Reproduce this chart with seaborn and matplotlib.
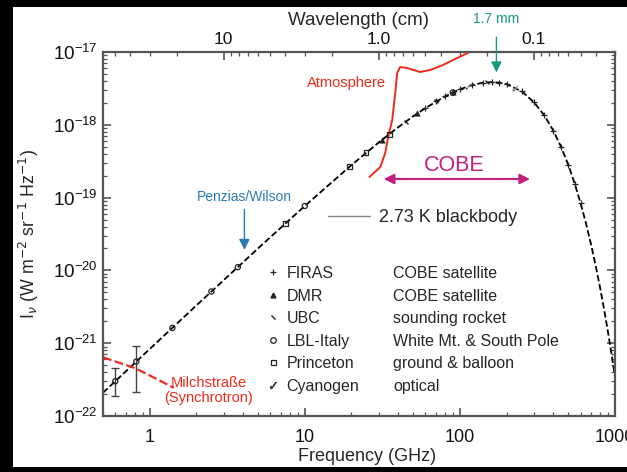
import numpy as np
import pandas as pd
import matplotlib
matplotlib.use("Agg")
import matplotlib.pyplot as plt
import seaborn as sns
from matplotlib.patches import Rectangle
from matplotlib.lines import Line2D
from matplotlib.markers import MarkerStyle
from matplotlib.transforms import Affine2D
from matplotlib.ticker import (LogLocator, FixedLocator, FixedFormatter, NullFormatter,
                               LogFormatterSciNotation)

# ---- data (frequency in GHz, intensity in W m^-2 sr^-1 Hz^-1) ----
bb_freq = [0.5, 1, 2, 5, 10, 20, 30, 40, 50, 60, 80, 100, 120, 140, 160, 180, 200,
           250, 300, 350, 400, 450, 500, 550, 600, 650, 700, 750, 800, 850, 900, 950, 1000]
bb_int = [2.09e-22, 8.31e-22, 3.30e-21, 2.01e-20, 7.67e-20, 2.80e-19, 5.73e-19, 9.25e-19,
          1.31e-18, 1.70e-18, 2.45e-18, 3.07e-18, 3.52e-18, 3.78e-18, 3.86e-18, 3.79e-18,
          3.61e-18, 2.88e-18, 2.05e-18, 1.35e-18, 8.35e-19, 4.93e-19, 2.81e-19, 1.55e-19,
          8.37e-20, 4.42e-20, 2.29e-20, 1.17e-20, 5.90e-21, 2.94e-21, 1.45e-21, 7.07e-22, 3.43e-22]

firas_freq = [60, 70, 80, 90, 100, 120, 140, 160, 180, 200, 250, 300, 350, 400, 450, 500, 550, 600]
firas_int = [1.70e-18, 2.09e-18, 2.45e-18, 2.78e-18, 3.07e-18, 3.52e-18, 3.78e-18, 3.86e-18,
             3.79e-18, 3.61e-18, 2.88e-18, 2.05e-18, 1.35e-18, 8.35e-19, 4.93e-19, 2.81e-19,
             1.55e-19, 8.37e-20]
dmr_freq = [31.5, 53, 90]
dmr_int = [6.23e-19, 1.43e-18, 2.78e-18]
ubc_freq = [45, 70, 150, 260]
ubc_int = [1.11e-18, 2.09e-18, 3.84e-18, 2.71e-18]
lbl_freq = [0.6, 0.82, 1.4, 2.5, 3.7, 10, 90]
lbl_int = [3.00e-22, 5.60e-22, 1.62e-21, 5.13e-21, 1.11e-20, 7.67e-20, 2.78e-18]
lbl_err_lo = [1.12e-22, 3.46e-22, 0, 0, 0, 0, 0]
lbl_err_hi = [1.56e-22, 3.56e-22, 0, 0, 0, 0, 0]
princeton_freq = [7.5, 19.4, 24.8, 35]
princeton_int = [4.42e-20, 2.65e-19, 4.12e-19, 7.44e-19]
cyan_freq = [113.6, 227]
cyan_int = [3.40e-18, 3.25e-18]

atm_freq = [26.1, 30.7, 33.0, 34.5, 36.6, 38.3, 39.4, 41.2, 45.7, 55.4, 64.3, 77.9, 90.2, 116, 130]
atm_int = [1.92e-19, 2.63e-19, 4.10e-19, 6.80e-19, 1.16e-18, 2.73e-18, 5.15e-18, 6.22e-18,
           6.03e-18, 5.31e-18, 5.66e-18, 6.63e-18, 7.76e-18, 1.0e-17, 1.2e-17]

sync_freq = [0.5, 0.80, 1.14, 1.43]
sync_int = [6.4e-22, 4.57e-22, 3.13e-22, 2.43e-22]

exp_names = ["FIRAS", "DMR", "UBC", "LBL-Italy", "Princeton", "Cyanogen"]
exp_desc = ["COBE satellite", "COBE satellite", "sounding rocket",
            "White Mt. & South Pole", "ground & balloon", "optical"]

wl_ticks = [10, 1.0, 0.1]
wl_labels = ["10", "1.0", "0.1"]
f_ticks = [1, 10, 100, 1000]
f_labels = ["1", "10", "100", "1000"]
i_ticks = [1e-22, 1e-21, 1e-20, 1e-19, 1e-18, 1e-17]

# ---- styling ----
sns.set_theme(style="ticks")
plt.rcParams['font.family'] = ['Liberation Sans', 'DejaVu Sans']
plt.rcParams['mathtext.fontset'] = 'dejavusans'

RED = '#ee2a1c'
BLUE = '#2b7bb4'
TEAL = '#159a80'
MAG = '#c2207c'
INK = '#222222'

fig = plt.figure(figsize=(6.27, 4.72), dpi=100, facecolor='black')
fig.patches.append(Rectangle((13 / 627, 1 - 467 / 472), 1, (467 - 7) / 472,
                             transform=fig.transFigure, facecolor='white',
                             edgecolor='none', zorder=-10))
ax = fig.add_axes([103 / 627, 1 - 416 / 472, 512 / 627, 364 / 472])
ax.set_zorder(2)
ax.set_facecolor('white')
ax.set_xscale('log')
ax.set_yscale('log')

# blackbody curve
sns.lineplot(x=bb_freq, y=bb_int, ax=ax, color='black', lw=1.3, sort=True,
             dashes=False, estimator=None)
ax.lines[-1].set_dashes((3.5, 1.6))

# Atmosphere & galactic synchrotron
sns.lineplot(x=atm_freq, y=atm_int, ax=ax, color=RED, lw=1.4, sort=False, estimator=None)
sns.lineplot(x=sync_freq, y=sync_int, ax=ax, color=RED, lw=1.6, sort=False, estimator=None)
ax.lines[-1].set_dashes((4, 1.5))

# experimental points
ubc_marker = MarkerStyle('_', transform=Affine2D().rotate_deg(-45))
sns.scatterplot(x=firas_freq, y=firas_int, ax=ax, marker='+', color=INK, s=22, linewidth=0.9, zorder=4)
sns.scatterplot(x=dmr_freq, y=dmr_int, ax=ax, marker='^', color=INK, s=16, edgecolor=INK, zorder=4)
sns.scatterplot(x=ubc_freq, y=ubc_int, ax=ax, marker=ubc_marker, color=INK, s=16, linewidth=1.0, zorder=4)
sns.scatterplot(x=lbl_freq, y=lbl_int, ax=ax, marker='o', facecolor='none', edgecolor=INK, s=14, linewidth=0.9, zorder=4)
sns.scatterplot(x=princeton_freq, y=princeton_int, ax=ax, marker='s', facecolor='none', edgecolor=INK, s=12, linewidth=0.9, zorder=4)
sns.scatterplot(x=cyan_freq, y=cyan_int, ax=ax, marker=r'$\checkmark$', color=INK, s=22, linewidth=0.3, zorder=4)
ax.errorbar(lbl_freq[:2], lbl_int[:2], yerr=[lbl_err_lo[:2], lbl_err_hi[:2]], fmt='none',
            ecolor='#444444', elinewidth=1.0, capsize=3, capthick=1.0, zorder=3)

ax.set_xlim(0.5, 1000)
ax.set_ylim(1e-22, 1e-17)

# ticks
ax.xaxis.set_major_locator(FixedLocator(f_ticks))
ax.xaxis.set_major_formatter(FixedFormatter(f_labels))
ax.xaxis.set_minor_locator(LogLocator(base=10, subs=np.arange(2, 10), numticks=20))
ax.xaxis.set_minor_formatter(NullFormatter())
ax.yaxis.set_major_locator(FixedLocator(i_ticks))
ax.yaxis.set_major_formatter(LogFormatterSciNotation())
ax.yaxis.set_minor_locator(LogLocator(base=10, subs=np.arange(2, 10), numticks=20))
ax.yaxis.set_minor_formatter(NullFormatter())
ax.tick_params(which='both', direction='in', right=True, top=False, colors='#555555',
               labelcolor='#111111')
ax.tick_params(axis='x', which='major', labelsize=13, pad=9)
ax.tick_params(axis='y', which='major', labelsize=13.5, pad=4)
ax.tick_params(which='major', length=6, width=1.2)
ax.tick_params(which='minor', length=3, width=0.9)
for sp in ax.spines.values():
    sp.set_color('#555555')
    sp.set_linewidth(1.6)

secax = ax.secondary_xaxis('top', functions=(lambda f: 30.0 / f, lambda w: 30.0 / w))
secax.xaxis.set_major_locator(FixedLocator(wl_ticks))
secax.xaxis.set_major_formatter(FixedFormatter(wl_labels))
secax.xaxis.set_minor_locator(LogLocator(base=10, subs=np.arange(2, 10), numticks=20))
secax.xaxis.set_minor_formatter(NullFormatter())
secax.tick_params(which='both', direction='in', colors='#555555', labelcolor='#111111', labelsize=12.5)
secax.tick_params(which='major', length=6, width=1.2)
secax.tick_params(which='minor', length=3, width=0.9)
secax.spines['top'].set_color('#555555')
secax.set_xlabel('Wavelength (cm)', fontsize=13.5, labelpad=5)

ax.set_xlabel('Frequency (GHz)', fontsize=13)
ax.xaxis.set_label_coords((367 - 103) / 512, -(448 - 416) / 364)
ax.set_ylabel(r'I$_\nu$ (W m$^{-2}$ sr$^{-1}$ Hz$^{-1}$)', fontsize=12.8)
ax.yaxis.set_label_coords((41 - 103) / 512, 0.5)

# annotations
ax.text(18.5, 3.75e-18, 'Atmosphere', color=RED, fontsize=10.5, ha='center', va='center')
ax.text(2.4, 2.25e-22, 'Milchstraße\n(Synchrotron)', color=RED, fontsize=10.5,
        ha='center', va='center', multialignment='center', linespacing=1.05)
ax.text(4.08, 1.02e-19, 'Penzias/Wilson', color=BLUE, fontsize=10, ha='center', va='center')
ax.annotate('', xy=(4.08, 1.75e-20), xytext=(4.08, 7.5e-20),
            arrowprops=dict(arrowstyle='-|>', color=BLUE, lw=1.0, mutation_scale=16))
ax.annotate('', xy=(172, 4.8e-18), xytext=(172, 1.75e-17), annotation_clip=False,
            arrowprops=dict(arrowstyle='-|>', color=TEAL, lw=1.0, mutation_scale=16))
ax.text(172, 2.85e-17, '1.7 mm', color=TEAL, fontsize=10, ha='center', va='center', clip_on=False)
ax.annotate('', xy=(31, 1.8e-19), xytext=(295, 1.8e-19),
            arrowprops=dict(arrowstyle='<|-|>', color=MAG, lw=1.5, mutation_scale=15))
ax.text(92, 2.75e-19, 'COBE', color=MAG, fontsize=15.5, ha='center', va='center')

# legends
bb_leg = ax.legend(handles=[Line2D([], [], color='#888888', lw=1.0)], labels=['2.73 K blackbody'],
                   loc='center left', bbox_to_anchor=((328 - 103) / 512, 1 - (218 - 52) / 364),
                   frameon=False, fontsize=13, handlelength=2.3, handletextpad=0.55, borderpad=0,
                   borderaxespad=0)
ax.add_artist(bb_leg)

h = [Line2D([], [], ls='none', marker='+', color=INK, ms=5, mew=0.9),
     Line2D([], [], ls='none', marker='^', color=INK, ms=3.5),
     Line2D([], [], ls='none', marker=ubc_marker, color=INK, ms=4, mew=1.0),
     Line2D([], [], ls='none', marker='o', mfc='none', mec=INK, ms=4, mew=0.9),
     Line2D([], [], ls='none', marker='s', mfc='none', mec=INK, ms=3.6, mew=0.9),
     Line2D([], [], ls='none', marker=r'$\checkmark$', color=INK, ms=5, mew=0.3)]
leg1 = ax.legend(handles=h, labels=exp_names, loc='upper left',
                 bbox_to_anchor=((265 - 103) / 512, 1 - (266 - 52) / 364),
                 frameon=False, fontsize=11.5, handlelength=1.0, handletextpad=0.35,
                 labelspacing=0.47, borderpad=0, borderaxespad=0)
ax.add_artist(leg1)
blank = [Line2D([], [], ls='none') for _ in exp_desc]
leg2 = ax.legend(handles=blank, labels=exp_desc, loc='upper left',
                 bbox_to_anchor=((393 - 103) / 512, 1 - (266 - 52) / 364),
                 frameon=False, fontsize=11.5, handlelength=0, handletextpad=0,
                 labelspacing=0.47, borderpad=0, borderaxespad=0)

fig.savefig('out.png', dpi=100, facecolor=fig.get_facecolor())
